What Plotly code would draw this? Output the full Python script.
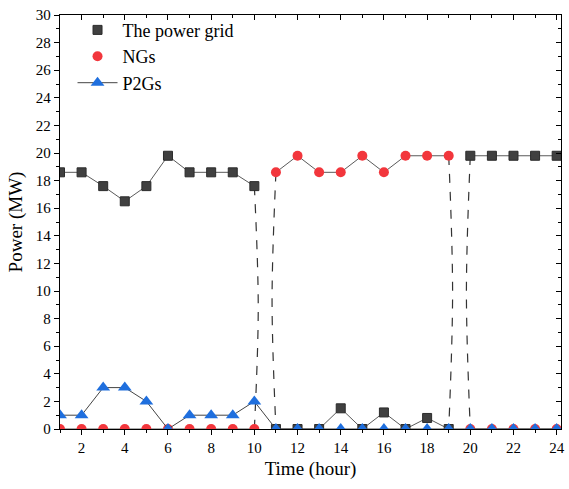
import plotly.graph_objects as go

hours = list(range(1, 25))
grid = [18.6, 18.6, 17.6, 16.5, 17.6, 19.8, 18.6, 18.6, 18.6, 17.6,
        0, 0, 0, 1.5, 0, 1.2, 0, 0.8, 0,
        19.8, 19.8, 19.8, 19.8, 19.8]
ngs = [0] * 10 + [18.6, 19.8, 18.6, 18.6, 19.8, 18.6, 19.8, 19.8, 19.8] + [0] * 5
p2gs = [1.0, 1.0, 3.0, 3.0, 2.0, 0, 1.0, 1.0, 1.0, 2.0] + [0] * 14
switch_hours = [10, 19]  # supply switches between hour h and h+1

x_ticks = list(range(2, 25, 2))
y_ticks = list(range(0, 31, 2))

FONT = "Liberation Serif, Times New Roman, serif"
GRID_C = "#404040"
NG_C = "#F2363C"
P2G_C = "#1F6FDE"
LINE_C = "#5a5a5a"


def split_line(xs, ys, breaks):
    ox, oy = [], []
    for x, y in zip(xs, ys):
        ox.append(x)
        oy.append(y)
        if x in breaks:
            ox.append(None)
            oy.append(None)
    return ox, oy


fig = go.Figure()

# dashed transition connectors
BULGE = 0.18
for h in switch_hours:
    i = hours.index(h)
    for series in (grid, ngs):
        if series[i] > 5 and series[i + 1] < 5:
            v = series[i]
            fig.add_trace(go.Scatter(x=[h, h + BULGE, h], y=[v, v / 2, 0], mode="lines",
                                     line=dict(color="#333333", width=1.2, dash="dash", shape="spline"),
                                     showlegend=False, hoverinfo="skip"))
        if series[i] < 5 and series[i + 1] > 5:
            v = series[i + 1]
            fig.add_trace(go.Scatter(x=[h + 1, h + 1 - BULGE, h + 1], y=[v, v / 2, 0], mode="lines",
                                     line=dict(color="#333333", width=1.2, dash="dash", shape="spline"),
                                     showlegend=False, hoverinfo="skip"))

gx, gy = split_line(hours, grid, switch_hours)
nx, ny = split_line(hours, ngs, switch_hours)
fig.add_trace(go.Scatter(x=gx, y=gy, mode="lines", line=dict(color=LINE_C, width=1),
                         showlegend=False, hoverinfo="skip"))
fig.add_trace(go.Scatter(x=nx, y=ny, mode="lines", line=dict(color=LINE_C, width=1),
                         showlegend=False, hoverinfo="skip"))

fig.add_trace(go.Scatter(x=hours, y=grid, mode="markers", name="The power grid",
                         marker=dict(symbol="square", size=9, color=GRID_C,
                                     line=dict(color="#2b2b2b", width=1))))
fig.add_trace(go.Scatter(x=hours, y=ngs, mode="markers", name="NGs",
                         marker=dict(symbol="circle", size=10, color=NG_C,
                                     line=dict(color=NG_C, width=0))))
fig.add_trace(go.Scatter(x=hours, y=p2gs, mode="lines+markers", name="P2Gs",
                         line=dict(color="#444444", width=1),
                         marker=dict(symbol="triangle-up", size=12, color=P2G_C,
                                     line=dict(color=P2G_C, width=0))))

# dummy trace for mirrored axes
fig.add_trace(go.Scatter(x=[None], y=[None], xaxis="x2", yaxis="y2",
                         showlegend=False, hoverinfo="skip"))

XR = [1, 24.2]
YR = [0, 30]
common = dict(showline=True, linecolor="black", linewidth=1.3, showgrid=False,
              zeroline=False, tickcolor="black", tickwidth=1)

fig.update_layout(
    width=569, height=489,
    margin=dict(l=60, r=4, t=15, b=60),
    paper_bgcolor="white", plot_bgcolor="white",
    font=dict(family=FONT, color="black", size=15),
    xaxis=dict(range=XR, tickvals=x_ticks, ticks="outside", ticklen=5,
               minor=dict(dtick=1, tick0=1, ticks="outside", ticklen=3, tickcolor="black"),
               title=dict(text="Time (hour)", font=dict(size=19, family=FONT), standoff=6),
               tickfont=dict(size=15, family=FONT), **common),
    yaxis=dict(range=YR, tickvals=y_ticks, ticks="outside", ticklen=5,
               minor=dict(dtick=1, tick0=1, ticks="outside", ticklen=3, tickcolor="black"),
               title=dict(text="Power (MW)", font=dict(size=19, family=FONT), standoff=8),
               tickfont=dict(size=15, family=FONT), **common),
    xaxis2=dict(range=XR, overlaying="x", side="top", anchor="y", tickvals=x_ticks,
                ticks="inside", ticklen=5, showticklabels=False,
                minor=dict(dtick=1, tick0=1, ticks="inside", ticklen=3, tickcolor="black"),
                **common),
    yaxis2=dict(range=YR, overlaying="y", side="right", anchor="x", tickvals=y_ticks,
                ticks="inside", ticklen=5, showticklabels=False,
                minor=dict(dtick=1, tick0=1, ticks="inside", ticklen=3, tickcolor="black"),
                **common),
    legend=dict(x=0.025, y=1.008, xanchor="left", yanchor="top", bgcolor="rgba(0,0,0,0)",
                font=dict(size=18, family=FONT), tracegroupgap=0, itemwidth=40),
    showlegend=True,
)

fig.write_html("out.html")
